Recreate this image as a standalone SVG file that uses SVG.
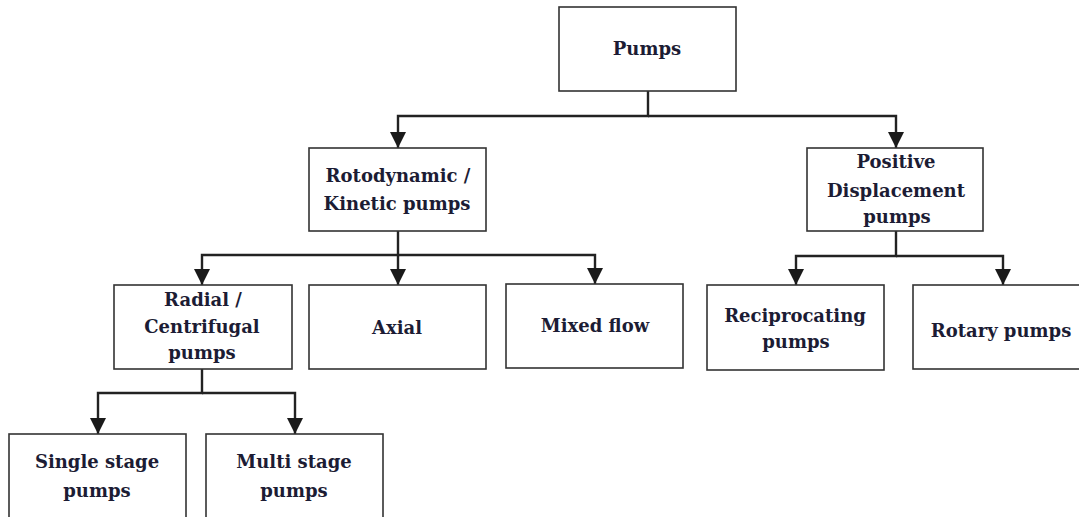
<svg xmlns="http://www.w3.org/2000/svg" width="1079" height="517" viewBox="0 0 1079 517">
<style>
.box{fill:#ffffff;stroke:#333333;stroke-width:1.6}
.sh{fill:none;stroke:#e4e4e4;stroke-width:2}
.t{font-family:"DejaVu Serif","Liberation Serif",serif;font-weight:bold;font-size:18px;fill:#1c1c34;text-anchor:middle}
.c{fill:none;stroke:#222222;stroke-width:2.4;stroke-linejoin:miter}
</style>
<defs>
<marker id="ah" markerUnits="userSpaceOnUse" markerWidth="16" markerHeight="16" refX="16" refY="8" orient="auto" viewBox="0 0 16 16">
<path d="M0,0 L16,8 L0,16 z" fill="#1a1a1a"/>
</marker>
</defs>
<rect width="1079" height="517" fill="#ffffff"/>
<g id="connectors">
<path class="c" d="M648,91 V116 H398 V148" marker-end="url(#ah)"/>
<path class="c" d="M648,116 H896 V148" marker-end="url(#ah)"/>
<path class="c" d="M398,231 V255 H202 V285" marker-end="url(#ah)"/>
<path class="c" d="M398,255 V285" marker-end="url(#ah)"/>
<path class="c" d="M398,255 H595 V284" marker-end="url(#ah)"/>
<path class="c" d="M202,369 V393 H98 V434" marker-end="url(#ah)"/>
<path class="c" d="M202,393 H295 V434" marker-end="url(#ah)"/>
<path class="c" d="M896,231 V256 H796 V285" marker-end="url(#ah)"/>
<path class="c" d="M896,256 H1003 V285" marker-end="url(#ah)"/>
</g>
<g id="pumps">
<rect class="box" x="559" y="7" width="177" height="84"/>
<text class="t" x="647" y="55">Pumps</text>
</g>
<g id="rotodynamic">
<rect class="box" x="309" y="148" width="177" height="83"/>
<text class="t" x="398" y="182">Rotodynamic /</text>
<text class="t" x="397" y="210">Kinetic pumps</text>
</g>
<g id="positive">
<rect class="box" x="807" y="148" width="176" height="83"/>
<text class="t" x="896" y="168">Positive</text>
<text class="t" x="896" y="197">Displacement</text>
<text class="t" x="897" y="223">pumps</text>
</g>
<g id="radial">
<rect class="box" x="114" y="285" width="178" height="84"/>
<text class="t" x="203" y="306">Radial /</text>
<text class="t" x="202" y="333">Centrifugal</text>
<text class="t" x="202" y="359">pumps</text>
</g>
<g id="axial">
<rect class="box" x="309" y="285" width="177" height="84"/>
<text class="t" x="397" y="334">Axial</text>
</g>
<g id="mixed">
<rect class="box" x="506" y="284" width="177" height="84"/>
<text class="t" x="595" y="332">Mixed flow</text>
</g>
<g id="reciprocating">
<rect class="box" x="707" y="285" width="177" height="85"/>
<text class="t" x="795" y="322">Reciprocating</text>
<text class="t" x="796" y="348">pumps</text>
</g>
<g id="rotary">
<rect class="box" x="913" y="285" width="180" height="84"/>
<text class="t" x="1001" y="337">Rotary pumps</text>
</g>
<g id="single">
<rect class="box" x="9" y="434" width="177" height="100"/>
<text class="t" x="97" y="468">Single stage</text>
<text class="t" x="97" y="497">pumps</text>
</g>
<g id="multi">
<rect class="box" x="206" y="434" width="177" height="100"/>
<text class="t" x="294" y="468">Multi stage</text>
<text class="t" x="294" y="497">pumps</text>
</g>
</svg>
